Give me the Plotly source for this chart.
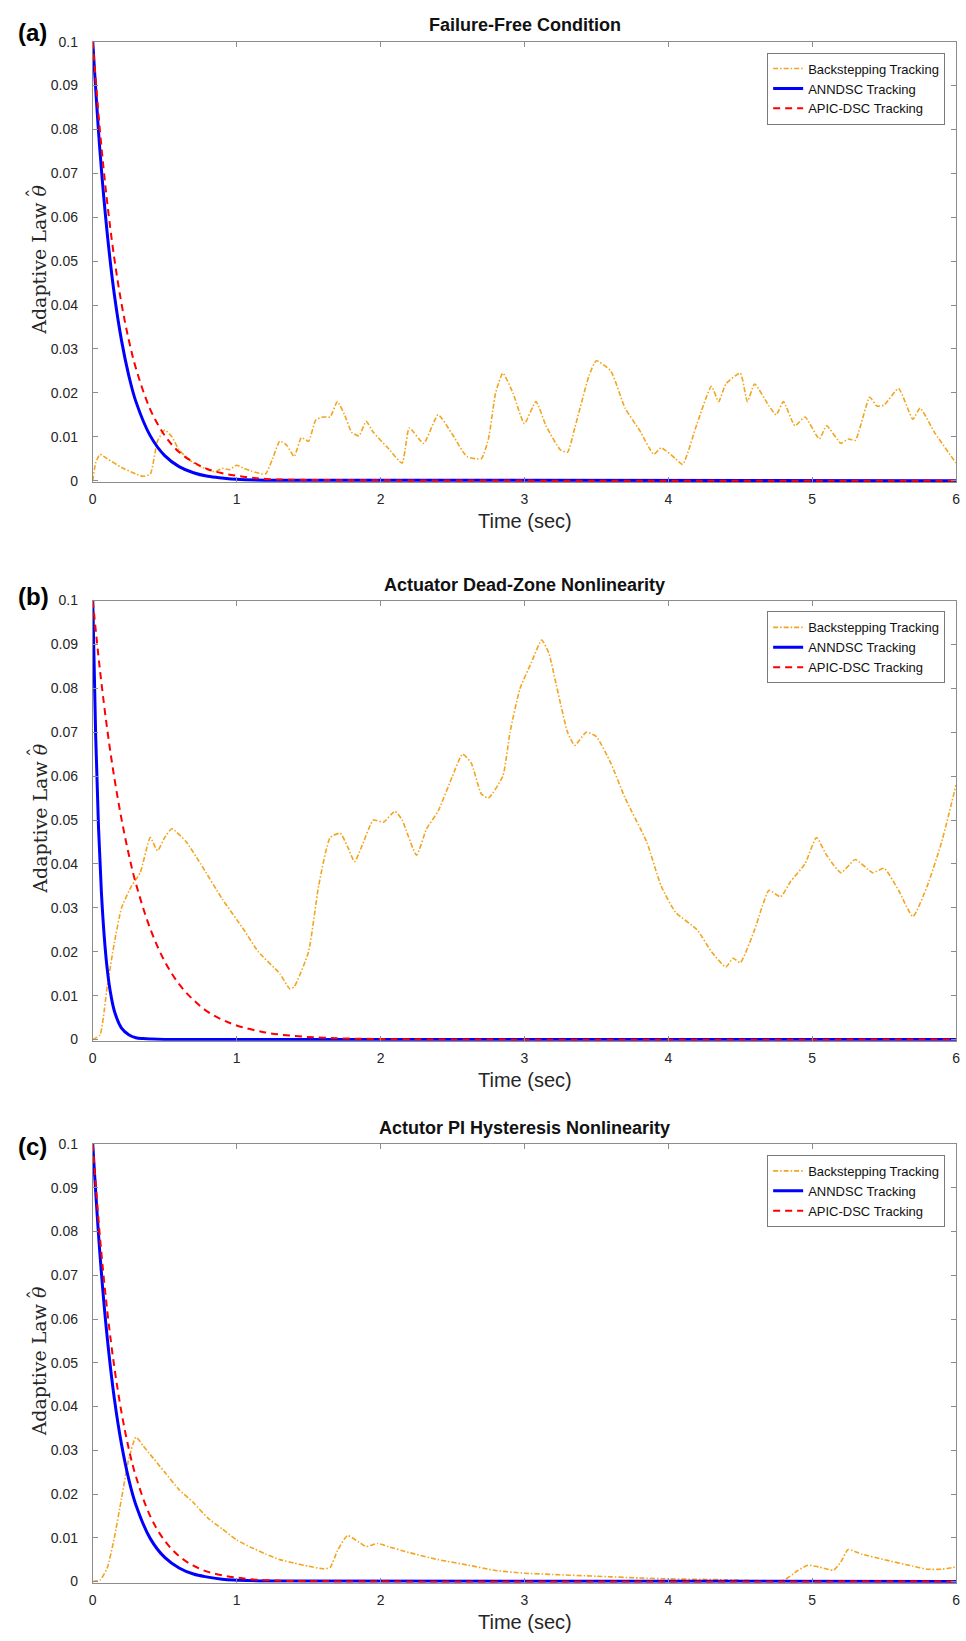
import plotly.graph_objects as go

# ---------------- Data ----------------
# Panel (a) Failure-Free Condition
a_bs_t = [0, 0.02, 0.05, 0.1, 0.2, 0.3, 0.35, 0.4, 0.45, 0.5, 0.55, 0.6, 0.7, 0.8, 0.85, 0.9, 0.95, 1.0,
          1.05, 1.1, 1.2, 1.25, 1.3, 1.35, 1.4, 1.45, 1.5, 1.55, 1.6, 1.65, 1.7, 1.75, 1.8, 1.85, 1.9,
          1.95, 2.05, 2.15, 2.2, 2.3, 2.4, 2.5, 2.6, 2.7, 2.75, 2.8, 2.85, 2.92, 3.0, 3.08, 3.15, 3.25,
          3.3, 3.35, 3.45, 3.5, 3.6, 3.7, 3.8, 3.9, 3.95, 4.05, 4.1, 4.2, 4.3, 4.35, 4.4, 4.5, 4.55,
          4.6, 4.7, 4.75, 4.8, 4.88, 4.95, 5.05, 5.1, 5.2, 5.25, 5.3, 5.4, 5.45, 5.5, 5.6, 5.7, 5.75,
          5.85, 6.0]
a_bs_v = [0, 0.004, 0.006, 0.005, 0.003, 0.0015, 0.001, 0.0015, 0.009, 0.0115, 0.01, 0.007, 0.004,
          0.0025, 0.002, 0.0028, 0.0025, 0.0035, 0.0028, 0.0022, 0.0015, 0.005, 0.009, 0.008, 0.0055,
          0.0098, 0.009, 0.0138, 0.0145, 0.0145, 0.018, 0.015, 0.011, 0.0102, 0.0135, 0.011, 0.0075,
          0.004, 0.012, 0.0085, 0.015, 0.0105, 0.0055, 0.005, 0.0095, 0.02, 0.0245, 0.02, 0.013,
          0.018, 0.0125, 0.007, 0.0065, 0.012, 0.024, 0.0273, 0.025, 0.0165, 0.0115, 0.006, 0.0075,
          0.005, 0.0037, 0.013, 0.0215, 0.018, 0.022, 0.0245, 0.018, 0.022, 0.017, 0.015, 0.018,
          0.0125, 0.0145, 0.0095, 0.0125, 0.0085, 0.0095, 0.0092, 0.019, 0.017, 0.0172, 0.021, 0.014,
          0.0165, 0.011, 0.004]
a_ann_t = [0, 0.05, 0.1, 0.15, 0.2, 0.25, 0.3, 0.4, 0.5, 0.6, 0.7, 0.8, 0.9, 1.0, 1.2, 6.0]
a_ann_v = [0.1, 0.0751, 0.0565, 0.0424, 0.0319, 0.024, 0.018, 0.0102, 0.0057, 0.0032, 0.0018,
           0.001, 0.0006, 0.0003, 0.0001, 0.0]
a_apic_t = [0, 0.05, 0.1, 0.15, 0.2, 0.25, 0.3, 0.4, 0.5, 0.6, 0.7, 0.8, 0.9, 1.0, 1.1, 1.2, 1.4, 6.0]
a_apic_v = [0.1, 0.0797, 0.0635, 0.0506, 0.0403, 0.0321, 0.0256, 0.0162, 0.0103, 0.0065, 0.0042,
            0.0026, 0.0017, 0.0011, 0.0007, 0.0004, 0.0002, 0.0]

# Panel (b) Actuator Dead-Zone Nonlinearity
b_bs_t = [0, 0.05, 0.1, 0.15, 0.2, 0.27, 0.33, 0.4, 0.45, 0.5, 0.55, 0.65, 0.75, 0.9, 1.05, 1.15,
          1.3, 1.37, 1.4, 1.5, 1.57, 1.65, 1.72, 1.77, 1.82, 1.87, 1.95, 2.02, 2.1, 2.15, 2.25, 2.32,
          2.4, 2.5, 2.57, 2.63, 2.7, 2.75, 2.85, 2.9, 2.97, 3.05, 3.12, 3.17, 3.22, 3.3, 3.35, 3.43,
          3.5, 3.6, 3.7, 3.85, 3.95, 4.05, 4.2, 4.3, 4.4, 4.45, 4.5, 4.6, 4.65, 4.7, 4.78, 4.85, 4.95,
          5.03, 5.1, 5.2, 5.3, 5.42, 5.5, 5.6, 5.7, 5.8, 5.9, 6.0]
b_bs_v = [0, 0.001, 0.012, 0.022, 0.03, 0.035, 0.038, 0.046, 0.043, 0.046, 0.048, 0.045, 0.04,
          0.032, 0.025, 0.02, 0.015, 0.0115, 0.012, 0.02, 0.035, 0.046, 0.047, 0.044, 0.0405, 0.044,
          0.05, 0.0495, 0.052, 0.05, 0.042, 0.048, 0.052, 0.06, 0.065, 0.063, 0.056, 0.055, 0.06,
          0.07, 0.08, 0.086, 0.091, 0.088, 0.081, 0.07, 0.067, 0.07, 0.069, 0.063, 0.055, 0.045, 0.035,
          0.029, 0.025, 0.02, 0.0165, 0.0185, 0.0175, 0.025, 0.03, 0.034, 0.0325, 0.036, 0.04, 0.046,
          0.042, 0.038, 0.041, 0.038, 0.039, 0.034, 0.028, 0.035, 0.045, 0.058]
b_ann_t = [0, 0.02, 0.04, 0.06, 0.08, 0.1, 0.12, 0.15, 0.2, 0.25, 0.3, 0.35, 0.4, 0.5, 6.0]
b_ann_v = [0.1, 0.0695, 0.0483, 0.0336, 0.0234, 0.0162, 0.0113, 0.0065, 0.0026, 0.0011, 0.0004,
           0.0002, 0.0001, 0.0, 0.0]
b_apic_t = [0, 0.05, 0.1, 0.15, 0.2, 0.25, 0.3, 0.4, 0.5, 0.6, 0.7, 0.8, 0.9, 1.0, 1.2, 1.4, 1.6,
            2.0, 6.0]
b_apic_v = [0.1, 0.0842, 0.0708, 0.0596, 0.0502, 0.0422, 0.0355, 0.0252, 0.0178, 0.0126, 0.009,
            0.0063, 0.0045, 0.0032, 0.0016, 0.0008, 0.0004, 0.0001, 0.0]

# Panel (c) Actutor PI Hysteresis Nonlinearity
c_bs_t = [0, 0.05, 0.1, 0.15, 0.2, 0.25, 0.3, 0.35, 0.4, 0.5, 0.6, 0.7, 0.8, 0.9, 1.0, 1.1, 1.2,
          1.3, 1.4, 1.5, 1.6, 1.65, 1.7, 1.77, 1.85, 1.9, 1.98, 2.05, 2.2, 2.4, 2.6, 2.8, 3.0, 3.2,
          3.5, 3.8, 4.0, 4.4, 4.8, 4.9, 4.97, 5.05, 5.15, 5.2, 5.25, 5.35, 5.5, 5.7, 5.8, 5.9, 6.0]
c_bs_v = [0, 0.0003, 0.003, 0.01, 0.019, 0.028, 0.033, 0.031, 0.029, 0.025, 0.021, 0.018, 0.0145,
          0.012, 0.0095, 0.0078, 0.0063, 0.005, 0.0042, 0.0035, 0.0029, 0.0032, 0.007, 0.0105, 0.009,
          0.008, 0.0087, 0.008, 0.0066, 0.005, 0.0038, 0.0025, 0.0019, 0.0016, 0.0012, 0.0008,
          0.0006, 0.0004, 0.0003, 0.0025, 0.0037, 0.0033, 0.0026, 0.0045, 0.0073, 0.0062, 0.005,
          0.0035, 0.0028, 0.0028, 0.0033]
c_ann_t = [0, 0.05, 0.1, 0.15, 0.2, 0.25, 0.3, 0.4, 0.5, 0.6, 0.7, 0.8, 0.9, 1.0, 1.2, 6.0]
c_ann_v = [0.1, 0.0748, 0.0559, 0.0418, 0.0313, 0.0234, 0.0175, 0.0098, 0.0055, 0.0031, 0.0017,
           0.001, 0.0005, 0.0003, 0.0001, 0.0]
c_apic_t = [0, 0.05, 0.1, 0.15, 0.2, 0.25, 0.3, 0.4, 0.5, 0.6, 0.7, 0.8, 0.9, 1.0, 1.1, 1.2, 1.4, 6.0]
c_apic_v = [0.1, 0.0788, 0.0621, 0.049, 0.0386, 0.0304, 0.024, 0.0149, 0.0093, 0.0058, 0.0036,
            0.0022, 0.0014, 0.0009, 0.0005, 0.0003, 0.0001, 0.0]

titles = ["Failure-Free Condition", "Actuator Dead-Zone Nonlinearity",
          "Actutor PI Hysteresis Nonlinearity"]
panel_labels = ["(a)", "(b)", "(c)"]
series_names = ["Backstepping Tracking", "ANNDSC Tracking", "APIC-DSC Tracking"]
x_ticks = [0, 1, 2, 3, 4, 5, 6]
y_ticks = [0, 0.01, 0.02, 0.03, 0.04, 0.05, 0.06, 0.07, 0.08, 0.09, 0.1]
y_tick_text = ["0", "0.01", "0.02", "0.03", "0.04", "0.05", "0.06", "0.07", "0.08", "0.09", "0.1"]

panels = [
    (a_bs_t, a_bs_v, a_ann_t, a_ann_v, a_apic_t, a_apic_v),
    (b_bs_t, b_bs_v, b_ann_t, b_ann_v, b_apic_t, b_apic_v),
    (c_bs_t, c_bs_v, c_ann_t, c_ann_v, c_apic_t, c_apic_v),
]

# ---------------- Layout geometry (pixels) ----------------
W, H = 966, 1641
x_left, x_right = 89.5, 960
plot_boxes = [(34, 477), (598, 1041), (1146.5, 1588)]  # top, bottom (value 0 line)
title_y = [17, 582, 1130]
label_y = [25, 594, 1149]
Y_LO = -0.0003  # small headroom so the thick zero lines are not half clipped
px_per_unit = 443.0 / 0.1

def py(p):
    return 1 - p / H

ORANGE = "#F2A51D"
BLUE = "#0000FF"
RED = "#FF0000"
TICKFONT = dict(family="Liberation Sans Narrow, Arial Narrow, Liberation Sans, Arial, sans-serif",
                size=14, color="#262626")
AXCOL = "#8c8c8c"
SERIF = "DejaVu Serif, serif"

fig = go.Figure()
layout = dict(width=W, height=H, margin=dict(l=0, r=0, t=0, b=0),
              paper_bgcolor="white", plot_bgcolor="white", showlegend=True)
annotations = []

for i, (bt, bv, nt, nv, pt, pv) in enumerate(panels):
    sfx = "" if i == 0 else str(i + 1)
    xa, ya = "x" + sfx, "y" + sfx
    leg = "legend" + sfx
    fig.add_trace(go.Scatter(x=bt, y=bv, mode="lines", name=series_names[0], xaxis=xa, yaxis=ya,
                             legend=leg, line=dict(color=ORANGE, width=1.6, dash="5px,2px,1.5px,2px",
                                                   shape="spline", smoothing=0.5)))
    fig.add_trace(go.Scatter(x=nt, y=nv, mode="lines", name=series_names[1], xaxis=xa, yaxis=ya,
                             legend=leg, line=dict(color=BLUE, width=3, shape="spline")))
    fig.add_trace(go.Scatter(x=pt, y=pv, mode="lines", name=series_names[2], xaxis=xa, yaxis=ya,
                             legend=leg, line=dict(color=RED, width=2, dash="7px,5px", shape="spline")))
    top, bot = plot_boxes[i]
    bot_ext = bot - Y_LO * px_per_unit
    axcommon = dict(showgrid=False, zeroline=False, showline=True, linecolor=AXCOL, linewidth=1,
                    mirror="ticks", ticks="inside", ticklen=5, tickcolor=AXCOL, tickwidth=1,
                    tickfont=TICKFONT)
    layout["xaxis" + sfx] = dict(domain=[x_left / W, x_right / W], anchor=ya, range=[0, 6],
                                 tickvals=x_ticks, ticklabelstandoff=4, **axcommon)
    layout["yaxis" + sfx] = dict(domain=[py(bot_ext), py(top)], anchor=xa, range=[Y_LO, 0.1],
                                 tickvals=y_ticks, ticktext=y_tick_text, ticklabelstandoff=11,
                                 **axcommon)
    layout[leg] = dict(x=949 / W, xanchor="right", y=py(top + 11), yanchor="top",
                       bgcolor="white", bordercolor="#7a7a7a", borderwidth=1,
                       font=dict(family="Liberation Sans, Arial, sans-serif", size=13, color="#111"),
                       itemwidth=30, tracegroupgap=0)
    # title
    annotations.append(dict(text="<b>" + titles[i] + "</b>", x=525 / W, y=py(title_y[i]),
                            xref="paper", yref="paper", xanchor="center", yanchor="middle",
                            showarrow=False, font=dict(family="Liberation Sans, Arial", size=18, color="#111")))
    # panel label
    annotations.append(dict(text="<b>" + panel_labels[i] + "</b>", x=12 / W, y=py(label_y[i]),
                            xref="paper", yref="paper", xanchor="left", yanchor="middle",
                            showarrow=False, font=dict(family="Liberation Sans, Arial", size=24, color="#000")))
    # x axis title
    annotations.append(dict(text="Time (sec)", x=525 / W, y=py(bot + 41),
                            xref="paper", yref="paper", xanchor="center", yanchor="middle",
                            showarrow=False, font=dict(family="Liberation Sans, Arial", size=20, color="#262626")))
    # y axis title
    mid = (top + bot) / 2 - 1.5
    annotations.append(dict(text="Adaptive Law <i>θ</i>", x=35.4 / W, y=py(mid),
                            xref="paper", yref="paper", xanchor="center", yanchor="middle",
                            textangle=-90, showarrow=False,
                            font=dict(family=SERIF, size=19, color="#262626")))
    # hat over theta
    annotations.append(dict(text="ˆ", x=31.0 / W, y=py(mid - 67),
                            xref="paper", yref="paper", xanchor="center", yanchor="middle",
                            textangle=-90, showarrow=False,
                            font=dict(family=SERIF, size=19, color="#262626")))

layout["annotations"] = annotations
fig.update_layout(**layout)
fig.write_html("out.html",
               post_script="document.body.style.margin='0';document.body.style.padding='0';")
